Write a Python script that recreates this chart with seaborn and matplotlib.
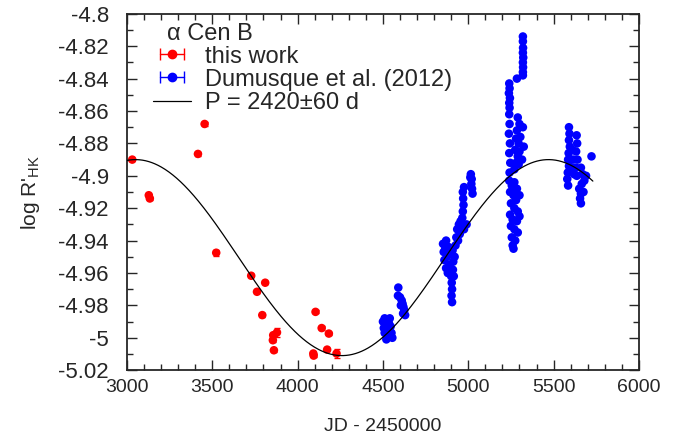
import numpy as np
import matplotlib
matplotlib.use("Agg")
import matplotlib.pyplot as plt
import seaborn as sns
from matplotlib.lines import Line2D
from matplotlib.legend_handler import HandlerLine2D, HandlerTuple
from matplotlib.ticker import MultipleLocator, FuncFormatter

# this work (red, with error bars)
red_jd = [3031, 3128, 3134, 3416, 3455, 3523, 3728, 3762, 3793, 3810,
          3855, 3857, 3861, 3879, 4092, 4094, 4105, 4141, 4173, 4183, 4228]
red_rhk = [-4.890, -4.912, -4.914, -4.8865, -4.868, -4.9475, -4.9617, -4.9716, -4.986, -4.966,
           -5.0015, -4.9984, -5.0077, -4.9967, -5.0097, -5.011, -4.984, -4.994, -5.0073, -4.9974, -5.0097]
red_err = [0.001, 0.001, 0.001, 0.001, 0.001, 0.002, 0.001, 0.001, 0.001, 0.001,
           0.001, 0.001, 0.001, 0.003, 0.001, 0.001, 0.001, 0.001, 0.001, 0.001, 0.003]

# Dumusque et al. (2012) (blue)
blue_jd = [
    # ~4500
    4500, 4505, 4510, 4515, 4520, 4525, 4530, 4535, 4540, 4545, 4550, 4555, 4520, 4510,
    # ~4600
    4590, 4588, 4600, 4610, 4615, 4620, 4625, 4618, 4630, 4605,
    # ~4900
    4852, 4856, 4860, 4865, 4870, 4875, 4880, 4885, 4890, 4895, 4870,
    4900, 4903, 4905, 4902, 4905, 4910, 4912, 4908, 4915, 4920, 4925, 4930,
    4935, 4945, 4955, 4965, 4975, 4990, 4950, 4940,
    4968, 4970, 4972, 4968, 4975,
    5015, 5020, 5018, 5022, 5025, 5012,
    # ~5300
    5320, 5320, 5321, 5320, 5322, 5320, 5321, 5320, 5320, 5285,
    5240, 5242, 5238, 5244, 5240, 5242,
    5240, 5242, 5238, 5244, 5240, 5246, 5242,
    5290, 5300, 5285, 5280, 5295, 5305, 5275, 5290, 5300, 5280, 5270, 5295,
    5320, 5325, 5315,
    5240, 5255, 5270, 5285, 5245, 5265, 5280, 5300, 5250, 5270, 5290,
    5245, 5260, 5285, 5300, 5250, 5270, 5290, 5255, 5275, 5260, 5265,
    # ~5650
    5590, 5593, 5590, 5595, 5588, 5585, 5590, 5583, 5580, 5585,
    5635, 5638, 5632, 5640, 5630, 5636,
    5610, 5615, 5605, 5620,
    5660, 5670, 5680, 5665, 5650, 5660, 5655, 5660, 5690, 5675,
    5722,
]
blue_rhk = [
    -4.990, -4.994, -4.997, -4.992, -4.989, -4.995, -4.999, -4.991, -4.988, -4.993, -4.997, -5.000, -5.001, -4.988,
    -4.969, -4.974, -4.975, -4.977, -4.979, -4.981, -4.983, -4.985, -4.986, -4.980,
    -4.942, -4.947, -4.952, -4.945, -4.957, -4.950, -4.960, -4.944, -4.955, -4.948, -4.940,
    -4.962, -4.966, -4.970, -4.974, -4.978, -4.958, -4.953, -4.946, -4.962, -4.950, -4.943, -4.938,
    -4.933, -4.930, -4.928, -4.926, -4.933, -4.930, -4.936, -4.940,
    -4.910, -4.914, -4.918, -4.922, -4.907,
    -4.899, -4.902, -4.905, -4.908, -4.911, -4.901,
    -4.814, -4.817, -4.821, -4.824, -4.827, -4.830, -4.833, -4.836, -4.838, -4.840,
    -4.843, -4.846, -4.849, -4.852, -4.855, -4.858,
    -4.862, -4.868, -4.874, -4.880, -4.886, -4.892, -4.898,
    -4.864, -4.868, -4.872, -4.877, -4.880, -4.876, -4.884, -4.888, -4.885, -4.892, -4.896, -4.893,
    -4.870, -4.882, -4.890,
    -4.903, -4.906, -4.904, -4.908, -4.910, -4.912, -4.915, -4.912, -4.917, -4.920, -4.922,
    -4.924, -4.927, -4.928, -4.925, -4.931, -4.933, -4.935, -4.938, -4.940, -4.943, -4.945,
    -4.870, -4.874, -4.878, -4.882, -4.886, -4.890, -4.894, -4.898, -4.902, -4.906,
    -4.875, -4.880, -4.885, -4.890, -4.895, -4.900,
    -4.884, -4.890, -4.895, -4.899,
    -4.895, -4.899, -4.903, -4.905, -4.908, -4.911, -4.914, -4.917, -4.900, -4.910,
    -4.888,
]

# sine fit, P = 2420 d
period = 2420.0
fit_mean = -4.9505
fit_amp = 0.0605
fit_tmax = 3050.0
fit_start, fit_end = 3000, 5730

sns.set_theme(style="ticks")
plt.rcParams["font.family"] = ["Liberation Sans", "DejaVu Sans"]
plt.rcParams["mathtext.default"] = "regular"

fig = plt.figure(figsize=(6.9, 4.46), dpi=100)
ax = fig.add_axes([0.184, 0.170, 0.742, 0.799])

jd_fit = np.linspace(fit_start, fit_end, 600)
rhk_fit = fit_mean + fit_amp * np.cos(2 * np.pi * (jd_fit - fit_tmax) / period)
sns.lineplot(x=jd_fit, y=rhk_fit, color="black", linewidth=0.9, ax=ax, zorder=3)

sns.scatterplot(x=blue_jd, y=blue_rhk, color="#0000ff", s=38, edgecolor="none", ax=ax, zorder=2)

ax.errorbar(red_jd, red_rhk, yerr=red_err, fmt="none", ecolor="red", elinewidth=1, capsize=2, zorder=2)
sns.scatterplot(x=red_jd, y=red_rhk, color="#ff0000", s=38, edgecolor="none", ax=ax, zorder=2)

ax.set_xlim(3000, 6000)
ax.set_ylim(-5.02, -4.8)
ax.xaxis.set_major_locator(MultipleLocator(500))
ax.xaxis.set_minor_locator(MultipleLocator(100))
ax.yaxis.set_major_locator(MultipleLocator(0.02))
ax.yaxis.set_minor_locator(MultipleLocator(0.01))
ax.yaxis.set_major_formatter(FuncFormatter(lambda v, p: "%g" % round(v, 3)))
ax.tick_params(which="both", direction="in", top=True, right=True, width=1)
ax.tick_params(axis="x", labelsize=14, pad=6)
ax.tick_params(axis="y", labelsize=16, pad=13)
ax.tick_params(which="major", length=7)
ax.tick_params(which="minor", length=4)
for sp in ax.spines.values():
    sp.set_linewidth(1.3)

ax.set_xlabel("JD - 2450000", fontsize=14, labelpad=16)
ax.set_ylabel("log R'$_{HK}$", fontsize=15, labelpad=12)

# title of the key
ax.text(0.078, 0.944, "\u03b1 Cen B", transform=ax.transAxes, fontsize=17, va="center", ha="left")

# legend with gnuplot-style errorbar samples
red_caps = Line2D([], [], color="red", lw=1, marker="|", markersize=8)
red_dot = Line2D([], [], color="red", ls="none", marker="o", markersize=6)
blue_caps = Line2D([], [], color="blue", lw=1, marker="|", markersize=8)
blue_dot = Line2D([], [], color="blue", ls="none", marker="o", markersize=6)
fit_line = Line2D([], [], color="black", lw=0.9)
hmap = {red_caps: HandlerLine2D(numpoints=2), blue_caps: HandlerLine2D(numpoints=2),
        red_dot: HandlerLine2D(numpoints=1), blue_dot: HandlerLine2D(numpoints=1),
        tuple: HandlerTuple(ndivide=1)}
ax.legend([(red_caps, red_dot), (blue_caps, blue_dot), fit_line],
          ["this work", "Dumusque et al. (2012)", "P = 2420\u00b160 d"],
          fontsize=17, loc="upper left", bbox_to_anchor=(0.051, 0.911), frameon=False,
          handlelength=1.6, handletextpad=0.6, labelspacing=0.05, borderpad=0, borderaxespad=0,
          handler_map=hmap)

fig.savefig("out.png", dpi=100)
